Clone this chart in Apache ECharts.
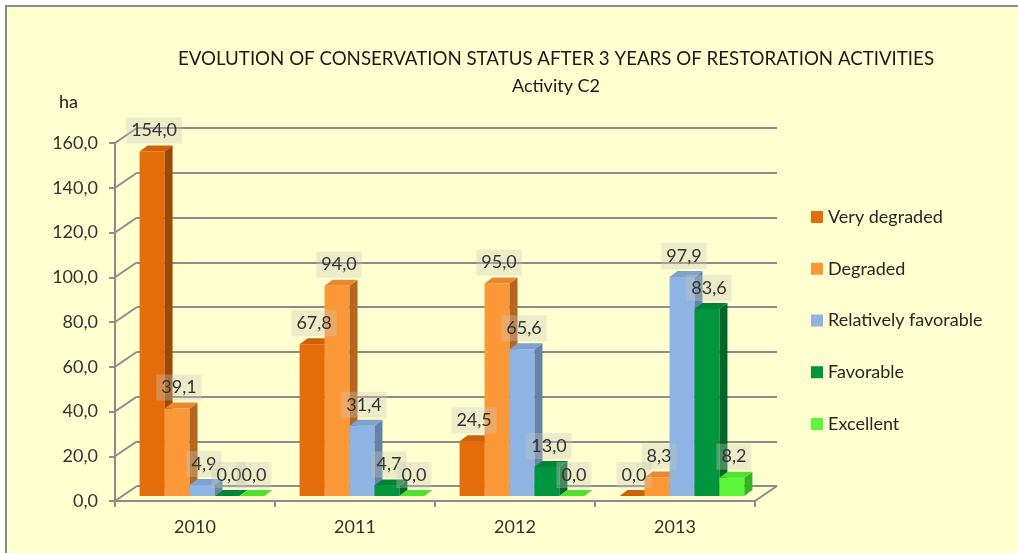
<!DOCTYPE html>
<html>
<head>
<meta charset="utf-8">
<title>Conservation status</title>
<script src="https://cdn.jsdelivr.net/npm/echarts@6/dist/echarts.min.js"></script>
<style>
html, body { margin: 0; padding: 0; background: #ffffff; }
#frame { position: absolute; left: 5px; top: 5px; width: 1040px; height: 570px;
         border-left: 2px solid #8a8a8a; border-top: 2px solid #8a8a8a; background: #ffffcf; }
#chart { position: absolute; left: 0; top: 0; width: 1018px; height: 553px; }
</style>
</head>
<body>
<div id="frame"></div>
<div id="chart"></div>
<script>
// data
var years = ['2010', '2011', '2012', '2013'];
var statusNames = ['Very degraded', 'Degraded', 'Relatively favorable', 'Favorable', 'Excellent'];
var veryDegraded = [154.0, 67.8, 24.5, 0.0];
var degraded = [39.1, 94.0, 95.0, 8.3];
var relFavorable = [4.9, 31.4, 65.6, 97.9];
var favorable = [0.0, 4.7, 13.0, 83.6];
var excellent = [0.0, 0.0, 0.0, 8.2];
var yTicks = [0, 20, 40, 60, 80, 100, 120, 140, 160];

var seriesValues = [veryDegraded, degraded, relFavorable, favorable, excellent];

// colours of the 3d faces
var frontColors = ['#e46c0a', '#fd9838', '#8db4e2', '#00953f', '#5cf53a'];
var sideColors = ['#9c4806', '#b6661f', '#6483aa', '#00672b', '#38b01f'];
var topColors = ['#cf6209', '#e9882f', '#7ea2cf', '#008538', '#4fe030'];

var FONT = "Lato, 'Liberation Sans', sans-serif";
var GRID_COLOR = '#8c8c8c';
var DX = 8, DY = -6;          // bar depth
var SX = 7, SY = -5;          // bars sit inside the floor
var WALL_DX = 22, WALL_DY = -15;

function fmt(v) {
	return v.toFixed(1).replace('.', ',');
}

var myChart = echarts.init(document.getElementById('chart'));

function barRenderer(s) {
	return function (params, api) {
		var ci = api.value(0), v = api.value(1);
		var band = api.size([1, 0])[0];
		var w = band * 0.156;
		var c = api.coord([ci, v]);
		var base = api.coord([ci, 0]);
		var x0 = c[0] - w * 2.5 + s * w + SX;
		var yTop = c[1] + SY, yBot = base[1] + SY;
		return {
			type: 'group',
			children: [
				{ type: 'rect', shape: { x: x0, y: yTop, width: w, height: yBot - yTop },
				  style: { fill: frontColors[s] } },
				{ type: 'polygon', shape: { points: [[x0 + w, yTop], [x0 + w + DX, yTop + DY], [x0 + w + DX, yBot + DY], [x0 + w, yBot]] },
				  style: { fill: sideColors[s] } },
				{ type: 'polygon', shape: { points: [[x0, yTop], [x0 + DX, yTop + DY], [x0 + w + DX, yTop + DY], [x0 + w, yTop]] },
				  style: { fill: topColors[s] } },
				{ type: 'text', z2: 100,
				  style: { text: fmt(v), x: x0 + w / 2 + 2, y: yTop - 21, align: 'center', verticalAlign: 'middle',
				           fill: '#333333', font: '18px ' + FONT,
				           backgroundColor: 'rgba(200,200,185,0.35)', padding: [4, 5] } }
			]
		};
	};
}

// diagonal lines from the axis ticks to the back wall, plus the right floor edge
function frameRenderer(params, api) {
	var v = api.value(1);
	var band = api.size([1, 0])[0];
	var p = api.coord([0, v]);
	var xL = p[0] - band / 2;
	var children = [
		{ type: 'line', shape: { x1: xL, y1: p[1], x2: xL + WALL_DX, y2: p[1] + WALL_DY },
		  style: { stroke: GRID_COLOR, lineWidth: 2 } }
	];
	if (v === 0) {
		var q = api.coord([years.length - 1, 0]);
		var xR = q[0] + band / 2;
		children.push({ type: 'line', shape: { x1: xR, y1: q[1], x2: xR + WALL_DX, y2: q[1] + WALL_DY },
		  style: { stroke: GRID_COLOR, lineWidth: 2 } });
	}
	return { type: 'group', children: children };
}

var series = [];
for (var s = 0; s < seriesValues.length; s++) {
	series.push({
		name: statusNames[s],
		type: 'custom',
		xAxisIndex: 0,
		yAxisIndex: 0,
		itemStyle: { color: frontColors[s] },
		renderItem: barRenderer(s),
		data: seriesValues[s].map(function (v, i) { return [i, v]; }),
		z: 3
	});
}
series.push({
	type: 'custom',
	xAxisIndex: 0,
	yAxisIndex: 0,
	silent: true,
	renderItem: frameRenderer,
	data: yTicks.map(function (v) { return [0, v]; }),
	z: 1
});

var option = {
	backgroundColor: 'transparent',
	animation: false,
	textStyle: { fontFamily: FONT },
	title: {
		text: 'EVOLUTION OF CONSERVATION STATUS AFTER 3 YEARS OF RESTORATION ACTIVITIES',
		subtext: 'Activity C2',
		left: 551,
		textAlign: 'center',
		top: 44,
		itemGap: 9,
		textStyle: { fontFamily: FONT, fontSize: 18.7, fontWeight: 'normal', color: '#1a1a1a' },
		subtextStyle: { fontFamily: FONT, fontSize: 18, color: '#1a1a1a' }
	},
	legend: {
		orient: 'vertical',
		left: 806,
		top: 201,
		itemWidth: 12,
		itemHeight: 12,
		itemGap: 29.75,
		icon: 'rect',
		data: statusNames,
		textStyle: { fontFamily: FONT, fontSize: 18, color: '#262626', lineHeight: 22 }
	},
	grid: [
		{ left: 115, top: 143, right: 263, bottom: 52 },                 // front plane
		{ left: 137, top: 128, right: 241, bottom: 67 }                  // back wall
	],
	xAxis: [
		{
			type: 'category', gridIndex: 0, data: years,
			axisLine: { show: true, lineStyle: { color: GRID_COLOR, width: 2 } },
			axisTick: { show: true, length: 6, lineStyle: { color: GRID_COLOR, width: 2 } },
			axisLabel: { fontFamily: FONT, fontSize: 18, color: '#333333', margin: 17 },
			splitLine: { show: false }
		},
		{ type: 'category', gridIndex: 1, data: years, show: false }
	],
	yAxis: [
		{
			type: 'value', gridIndex: 0, min: 0, max: 160, interval: 20,
			name: 'ha', nameLocation: 'end', nameGap: 32,
			nameTextStyle: { fontFamily: FONT, fontSize: 18, color: '#1a1a1a', align: 'right', padding: [0, 37, 0, 0] },
			axisLine: { show: true, lineStyle: { color: GRID_COLOR, width: 2 } },
			axisTick: { show: true, length: 6, lineStyle: { color: GRID_COLOR, width: 2 } },
			axisLabel: { fontFamily: FONT, fontSize: 18, color: '#333333', margin: 17, formatter: fmt },
			splitLine: { show: false }
		},
		{
			type: 'value', gridIndex: 1, min: 0, max: 160, interval: 20,
			axisLine: { show: false }, axisTick: { show: false }, axisLabel: { show: false },
			splitLine: { show: true, lineStyle: { color: GRID_COLOR, width: 2 } }
		}
	],
	series: series
};

myChart.setOption(option);
</script>
</body>
</html>
